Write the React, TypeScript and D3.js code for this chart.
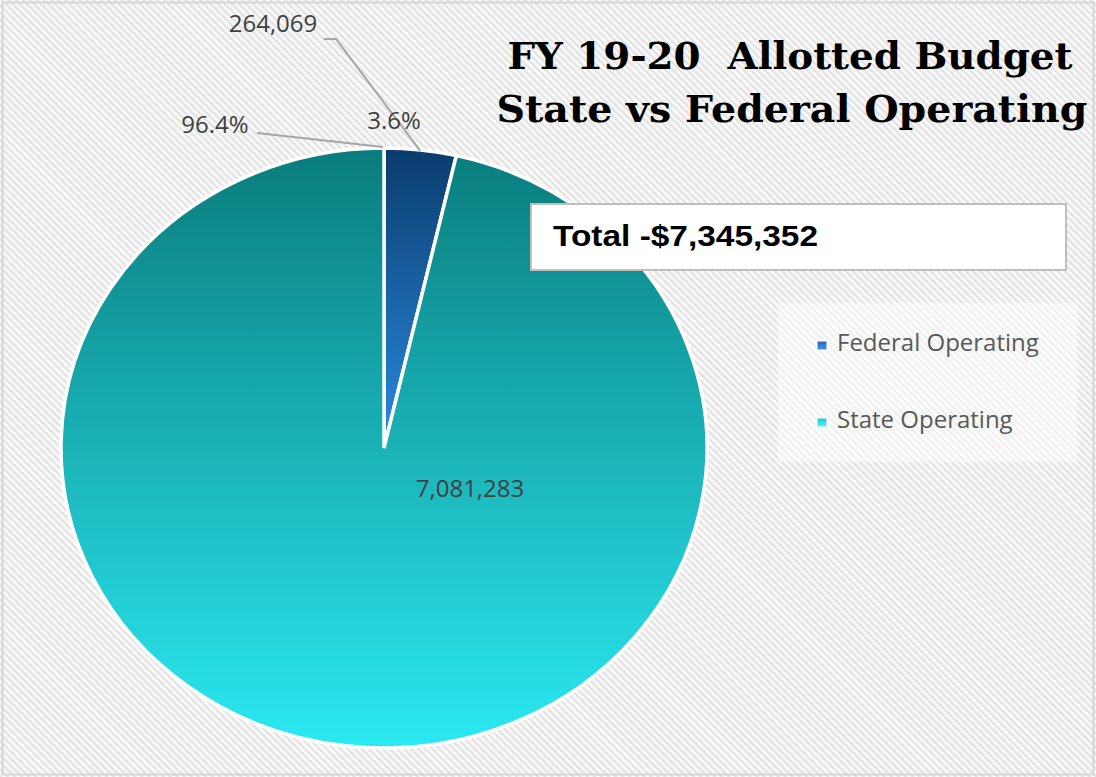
import React from 'react';
import * as d3 from 'd3';

// chart data
const categories = ['Federal Operating', 'State Operating'];
const values = [264069, 7081283];
const percentLabels = ['3.6%', '96.4%'];
const valueLabels = ['264,069', '7,081,283'];
const titleLines = ['FY 19-20  Allotted Budget', 'State vs Federal Operating'];
const totalLabel = 'Total -$7,345,352';

const W = 1096;
const H = 777;

const sliceGrad = [
  { id: 'gFed', top: '#0a3c6c', bottom: '#2a8be2' },
  { id: 'gState', top: '#0a7c7d', bottom: '#2be9f1' },
];
const legendGrad = [
  { id: 'lFed', top: '#2564bb', bottom: '#4a95e4' },
  { id: 'lState', top: '#1ec3cb', bottom: '#62eff4' },
];

const App = () => {
  const cx = 384;
  const cy = 448;
  const ry = 300;
  const rx = 323;
  const sx = rx / ry;

  const pie = d3.pie<number>().sort(null).value(d => d);
  const arcs = pie(values);
  const arc = d3.arc<d3.PieArcDatum<number>>().innerRadius(0).outerRadius(ry);

  // point on the (stretched) pie edge at a given angle
  const edge = (a: number, r = ry) => [cx + Math.sin(a) * r * sx, cy - Math.cos(a) * r];

  const fedMid = (arcs[0].startAngle + arcs[0].endAngle) / 2;
  const [fx, fy] = edge(fedMid, ry - 1);
  const [stx, sty] = edge(arcs[1].endAngle - 0.003, ry + 1);

  const labelFont = "'Open Sans', sans-serif";

  return (
    <svg width={W} height={H} style={{ position: 'absolute', left: 0, top: 0, display: 'block' }}>
      <defs>
        <pattern id="hatch" width={5} height={5} patternUnits="userSpaceOnUse" patternTransform="rotate(-45)">
          <rect width={5} height={5} fill="#fbfbfb" />
          <rect width={2.4} height={5} fill="#e3e3e3" />
        </pattern>
        {sliceGrad.concat(legendGrad).map(g => (
          <linearGradient key={g.id} id={g.id} x1="0" y1="0" x2="0" y2="1">
            <stop offset="0" stopColor={g.top} />
            <stop offset="1" stopColor={g.bottom} />
          </linearGradient>
        ))}
      </defs>

      <rect x={0} y={0} width={W} height={H} fill="url(#hatch)" />
      <rect x={2.5} y={2.5} width={W - 5} height={H - 5} fill="none" stroke="#d6d6d6" strokeWidth={2} />

      {/* pie */}
      <g transform={`translate(${cx},${cy}) scale(${sx},1)`}>
        {arcs.map((a, i) => (
          <path
            key={categories[i]}
            d={arc(a) || ''}
            fill={`url(#${sliceGrad[i].id})`}
            stroke="#ffffff"
            strokeWidth={3.5}
            strokeLinejoin="miter"
            vectorEffect="non-scaling-stroke"
          />
        ))}
      </g>

      {/* leader lines */}
      <polyline points={`324,39 336,39 ${fx},${fy}`} fill="none" stroke="#a6a6a6" strokeWidth={2} />
      <polyline points={`257,133 ${stx},${sty}`} fill="none" stroke="#a6a6a6" strokeWidth={2} />

      {/* data labels */}
      <g fontFamily={labelFont} fontSize={24} fill="#404040">
        <text x={273} y={32} textAnchor="middle">{valueLabels[0]}</text>
        <text x={394} y={129} textAnchor="middle">{percentLabels[0]}</text>
        <text x={215} y={133} textAnchor="middle">{percentLabels[1]}</text>
        <text x={470} y={497} textAnchor="middle">{valueLabels[1]}</text>
      </g>

      {/* title */}
      <g fontFamily="'DejaVu Serif', serif" fontWeight="bold" fontSize={38} fill="#000000" textAnchor="middle"
        style={{ whiteSpace: 'pre' }}>
        <text x={790} y={69} textLength={565} lengthAdjust="spacingAndGlyphs" xmlSpace="preserve">{titleLines[0]}</text>
        <text x={792} y={122} textLength={591} lengthAdjust="spacingAndGlyphs">{titleLines[1]}</text>
      </g>

      {/* total box */}
      <rect x={531} y={204} width={535} height={66} fill="#ffffff" stroke="#bfbfbf" strokeWidth={2} />
      <text x={553} y={246} fontFamily="'Liberation Sans', Arial, sans-serif" fontWeight="bold" fontSize={30}
        fill="#000000" textLength={265} lengthAdjust="spacingAndGlyphs">{totalLabel}</text>

      {/* legend */}
      <rect x={778} y={303} width={299} height={159} fill="#ffffff" opacity={0.45} />
      {categories.map((c, i) => (
        <g key={c} transform={`translate(817,${341 + i * 77})`}>
          <rect x={0} y={0} width={10} height={9} fill={`url(#${legendGrad[i].id})`} stroke="#ffffff" strokeWidth={1} />
          <text x={20} y={10} fontFamily={labelFont} fontSize={24} fill="#595959">{c}</text>
        </g>
      ))}
    </svg>
  );
};

export default App;
